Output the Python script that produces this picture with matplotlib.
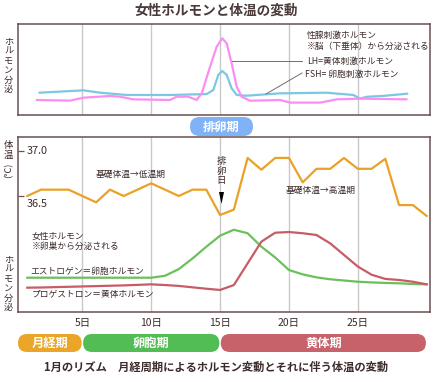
import matplotlib
matplotlib.use("Agg")
import matplotlib.pyplot as plt
from matplotlib.patches import FancyBboxPatch, Polygon

plt.rcParams['font.family'] = ['Noto Sans CJK JP', 'DejaVu Sans']

# ---------------- data ----------------
days = list(range(1, 31))
temperature = [36.50, 36.57, 36.57, 36.57, 36.50, 36.43, 36.57, 36.50, 36.57, 36.64,
               36.57, 36.50, 36.57, 36.57, 36.29, 36.35, 36.92, 36.79, 36.92, 36.92,
               36.65, 36.80, 36.80, 36.92, 36.80, 36.80, 36.91, 36.40, 36.40, 36.28]

estrogen = [19.6, 19.6, 19.6, 19.6, 19.6, 19.6, 19.6, 19.6, 19.6, 19.6,
            20.7, 24.5, 30.6, 37.3, 43.6, 47.0, 45.0, 37.3, 31.2, 24.0,
            21.5, 19.8, 18.7, 18.0, 17.3, 16.9, 16.6, 16.4, 16.0, 15.8]
progesterone = [13.9, 14.0, 14.2, 14.4, 14.6, 14.8, 15.0, 15.2, 15.5, 15.8,
                15.4, 14.9, 14.1, 13.3, 12.6, 15.4, 27.8, 40.2, 45.3, 45.7,
                45.0, 44.0, 39.2, 32.6, 26.0, 21.3, 18.9, 18.3, 17.3, 15.8]

lh_days = [1.68, 4.10, 5.07, 7.01, 7.73, 8.70, 11.36, 11.85, 12.69, 13.30, 13.67,
           14.27, 14.75, 15.16, 15.48, 15.84, 16.21, 16.57, 17.17, 19.35, 20.08,
           22.26, 23.47, 25.16, 28.55]
lh_vals = [16.5, 15.8, 19.0, 20.9, 20.1, 17.2, 16.5, 20.1, 20.1, 16.5, 23.8,
           53.0, 75.0, 84.2, 78.8, 56.8, 31.0, 20.1, 15.7, 16.5, 13.6,
           13.6, 17.2, 18.0, 17.2]
fsh_days = [1.87, 5.07, 6.28, 8.22, 11.36, 14.03, 14.51, 14.87, 15.16, 15.48,
            15.84, 16.21, 16.93, 19.35, 22.74, 24.68, 25.16, 25.65, 26.85, 28.60]
fsh_vals = [24.5, 27.1, 24.5, 22.0, 22.0, 23.0, 27.5, 44.0, 48.4, 44.0,
            29.3, 22.0, 21.2, 23.8, 24.5, 22.0, 18.0, 20.0, 21.0, 23.4]

tick_days = [5, 10, 15, 20, 25]
tick_labels = ['5日', '10日', '15日', '20日', '25日']
temp_ticks = [37.0, 36.5]
phase_names = ['月経期', '卵胞期', '黄体期']
phase_bounds = [(None, 5), (5, 15), (15, 30)]
ovulation_day = 15

# ---------------- styles ----------------
W, H = 444, 382
TXT = '#3d2b2b'
BORDER = '#6a5050'
GRID = '#c9c9c9'
C_TEMP = '#eba126'
C_EST = '#6cc05c'
C_PRO = '#c85c66'
C_LH = '#fb8ef2'
C_FSH = '#7cc8e2'
PHASE_COLORS = ['#eba62a', '#52bd55', '#c8626a']
XLIM = (0.325, 30.245)

fig = plt.figure(figsize=(W / 100, H / 100), dpi=100)

def fx(x):
    return x / W

def fy(y):
    return 1 - y / H

def px_axes(x0, y0, x1, y1):
    return [fx(x0), fy(y1), fx(x1) - fx(x0), fy(y0) - fy(y1)]

# top panel
axt = fig.add_axes(px_axes(18, 24, 430, 115))
axt.set_xlim(*XLIM)
axt.set_ylim(0, 100)
for d in tick_days:
    axt.axvline(d, color=GRID, lw=1, zorder=0)
axt.plot(fsh_days, fsh_vals, color=C_FSH, lw=1.6, solid_capstyle='round', zorder=2)
axt.plot(lh_days, lh_vals, color=C_LH, lw=1.6, solid_capstyle='round', zorder=3)
axt.set_xticks([])
axt.set_yticks([])
for s in axt.spines.values():
    s.set_color(BORDER)
    s.set_linewidth(1.1)

# bottom panel
axb = fig.add_axes(px_axes(18, 137, 430, 312))
axb.set_xlim(*XLIM)
axb.set_ylim(35.22, 37.151)
for d in tick_days:
    axb.axvline(d, color=GRID, lw=1, zorder=0)
axb.plot(days, temperature, color=C_TEMP, lw=1.6, zorder=3)
axb.set_xticks(tick_days)
axb.set_xticklabels(tick_labels, fontsize=7.5, color=TXT)
axb.tick_params(axis='x', length=0, pad=4)
axb.set_yticks(temp_ticks)
axb.set_yticklabels([])
axb.tick_params(axis='y', direction='in', length=4, width=0.9, color=BORDER)
for s in axb.spines.values():
    s.set_color(BORDER)
    s.set_linewidth(1.1)
axb.annotate('37.0', xy=(0, 37.0), xycoords=('axes fraction', 'data'),
             xytext=(6, 0), textcoords='offset points', ha='left', va='center',
             fontsize=7.8, color=TXT)
axb.annotate('36.5', xy=(0, 36.5), xycoords=('axes fraction', 'data'),
             xytext=(6, -2), textcoords='offset points', ha='left', va='top',
             fontsize=7.8, color=TXT)

axh = axb.twinx()
axh.set_ylim(0, 100)
axh.set_yticks([])
for s in axh.spines.values():
    s.set_visible(False)
axh.plot(days, estrogen, color=C_EST, lw=1.6, zorder=2)
axh.plot(days, progesterone, color=C_PRO, lw=1.6, zorder=2)

# overlay in pixel coordinates
ov = fig.add_axes([0, 0, 1, 1], zorder=10)
ov.set_xlim(0, W)
ov.set_ylim(H, 0)
ov.axis('off')
ov.patch.set_alpha(0)

def pill(x0, x1, y0, y1, color, text, fs):
    r = (y1 - y0) / 2
    ov.add_patch(FancyBboxPatch((x0, y0), x1 - x0, y1 - y0,
                                boxstyle=f'round,pad=0,rounding_size={r}',
                                fc=color, ec='none'))
    ov.text((x0 + x1) / 2, (y0 + y1) / 2 + 0.5, text, ha='center', va='center',
            fontsize=fs, color='white', fontweight='bold')

# phase pills, x from the bottom axis scale
fig.canvas.draw()
def day_to_px(d):
    return axb.transData.transform((d, 36.5))[0]

for (a, b), name, col in zip(phase_bounds, phase_names, PHASE_COLORS):
    x0 = 18 if a is None else day_to_px(a) + 0.7
    x1 = day_to_px(b) - 0.7
    pill(x0, x1, 334, 352, col, name, 8.8)

# ovulation pill
pill(190, 253, 117, 136, '#80b3f6', '排卵期', 8.8)

# title & caption
ov.text(216, 10.5, '女性ホルモンと体温の変動', ha='center', va='center',
        fontsize=9.8, fontweight='bold', color='#4a3a3a')
ov.text(216, 367, '1月のリズム　月経周期によるホルモン変動とそれに伴う体温の変動',
        ha='center', va='center', fontsize=8.1, fontweight='bold', color=TXT)

# y-labels (stacked)
stack = '\n'.join('ホルモン分泌')
ov.text(8.5, 66, stack, ha='center', va='center', fontsize=6.6, color=TXT, linespacing=1.08)
ov.text(8.5, 284, stack, ha='center', va='center', fontsize=6.6, color=TXT, linespacing=1.08)
ov.text(8.5, 150.5, '体\n温', ha='center', va='center', fontsize=6.8, color=TXT, linespacing=1.05)
ov.text(8.5, 170, '(℃)', ha='center', va='center', fontsize=6.6, color=TXT, rotation=90)

# top annotations
fs_a = 6.3
ov.text(307, 35, '性腺刺激ホルモン', ha='left', va='center', fontsize=fs_a, color=TXT)
ov.text(307, 46, '※脳（下垂体）から分泌される', ha='left', va='center', fontsize=fs_a, color=TXT)
ov.text(307, 61, 'LH=黄体刺激ホルモン', ha='left', va='center', fontsize=fs_a, color=TXT)
ov.text(305, 74, 'FSH= 卵胞刺激ホルモン', ha='left', va='center', fontsize=fs_a, color=TXT)
ov.plot([232, 302], [61, 61], color='#7a6a6a', lw=0.7)
ov.plot([266, 302], [94, 73], color='#7a6a6a', lw=0.7)

# bottom annotations
ov.text(96, 174.5, '基礎体温→低温期', ha='left', va='center', fontsize=fs_a, color=TXT)
ov.text(286, 190.5, '基礎体温→高温期', ha='left', va='center', fontsize=fs_a, color=TXT)
ov.text(221.5, 171, '排\n卵\n日', ha='center', va='center', fontsize=6.8, color=TXT, linespacing=1.05)
ov.add_patch(Polygon([[219, 192], [224, 192], [221.5, 204]], closed=True, fc='black', ec='none'))
ov.text(32, 236, '女性ホルモン', ha='left', va='center', fontsize=fs_a, color=TXT)
ov.text(32, 246.5, '※卵巣から分泌される', ha='left', va='center', fontsize=fs_a, color=TXT)
ov.text(30, 271, 'エストロゲン＝卵胞ホルモン', ha='left', va='center', fontsize=fs_a, color=TXT)
ov.text(32, 295, 'プロゲストロン＝黄体ホルモン', ha='left', va='center', fontsize=fs_a, color=TXT)

fig.savefig('out.png', dpi=100)
